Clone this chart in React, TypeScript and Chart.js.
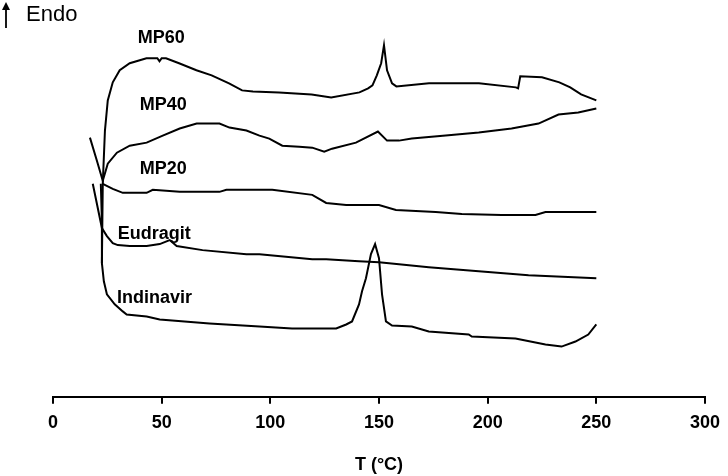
import { useEffect, useRef } from "react";
import { Chart, registerables } from "chart.js";

Chart.register(...registerables);

// Temperature (°C) and heat flow (arbitrary units, endo up) for each thermogram
const mp60T = [22.5, 22.9, 23.9, 25.2, 27.5, 30.7, 35.3, 43, 48, 49, 50, 52, 58, 66, 73, 81, 87, 92, 104, 119, 128, 141, 145, 147, 149, 151, 152.3, 153.7, 156, 158, 173, 196, 213, 214, 215, 225, 233, 238, 243, 250];
const mp60H = [13.3, 21.2, 26.5, 29.5, 31.3, 32.5, 33.2, 33.7, 33.7, 33.4, 33.7, 33.7, 33.2, 32.5, 32.0, 31.2, 30.5, 30.4, 30.3, 30.1, 29.8, 30.3, 30.7, 31.0, 32.0, 33.2, 35.0, 32.5, 31.2, 30.9, 31.2, 31.2, 30.8, 30.7, 31.9, 31.8, 31.3, 30.8, 30.1, 29.5];

const mp40T = [17.0, 20.2, 22.9, 25.2, 29.4, 35.3, 43.1, 50.5, 58.3, 66.1, 76.6, 81.2, 89.0, 95.0, 99.5, 105.5, 113.3, 119.3, 124.8, 128.4, 139.4, 149.5, 153.7, 159.2, 165.1, 180.7, 195.9, 211, 223.4, 232.6, 241.7, 250];
const mp40H = [25.8, 23.5, 21.5, 23.2, 24.3, 25.0, 25.3, 26.0, 26.7, 27.2, 27.2, 26.8, 26.5, 26.0, 25.7, 25.0, 24.9, 24.8, 24.4, 24.7, 25.3, 26.4, 25.5, 25.5, 25.7, 26.0, 26.3, 26.7, 27.2, 28.1, 28.3, 28.7];

const mp20T = [22.9, 27.5, 32.1, 43.1, 45.9, 58.3, 76.6, 79.8, 100.9, 119.3, 125.7, 134.9, 150, 157.8, 176.1, 188.1, 206.4, 222, 226.6, 250];
const mp20H = [21.2, 20.7, 20.3, 20.3, 20.6, 20.4, 20.4, 20.6, 20.6, 20.1, 19.3, 19.1, 19.1, 18.6, 18.4, 18.2, 18.1, 18.1, 18.4, 18.4];

const eudT = [18.3, 22.5, 24.8, 27.5, 29.8, 35.3, 43.1, 49.1, 53.7, 56.9, 68.8, 89, 95, 119.3, 125.7, 140.8, 150, 159.2, 172.9, 195.9, 218.8, 250];
const eudH = [21.2, 16.8, 16.0, 15.3, 15.1, 15.0, 15.0, 15.2, 15.6, 15.0, 14.6, 14.2, 14.2, 13.7, 13.7, 13.5, 13.4, 13.2, 12.9, 12.5, 12.1, 11.8];

const indT = [22.0, 22.5, 22.5, 23.4, 24.8, 28.4, 32.1, 33.9, 43.1, 49.1, 72, 95, 110, 130.3, 134.9, 137.6, 140.8, 142.2, 144, 146.3, 148.2, 150, 151.4, 153.2, 156, 165.1, 172.9, 191.3, 192.7, 212.8, 226.6, 234, 240.4, 246.3, 250];
const indH = [21.2, 17.5, 13.3, 11.5, 10.2, 9.2, 8.5, 8.2, 8.0, 7.7, 7.3, 7.0, 6.8, 6.8, 7.2, 7.5, 9.2, 10.5, 11.8, 14.2, 15.2, 13.8, 10.2, 7.5, 7.1, 7.0, 6.5, 6.2, 6.0, 5.8, 5.2, 5.0, 5.5, 6.2, 7.2];

const seriesNames = ["MP60", "MP40", "MP20", "Eudragit", "Indinavir"];
const xTicks = [0, 50, 100, 150, 200, 250, 300];
const xTitle = "T (°C)";
const yNote = "Endo";

const zip = (t: number[], h: number[]) => t.map((x, i) => ({ x, y: h[i] }));

const FONT = "'Liberation Sans', Arial, Helvetica, sans-serif";

export default function App() {
  const ref = useRef<HTMLCanvasElement | null>(null);

  useEffect(() => {
    if (!ref.current) return;
    const data = [zip(mp60T, mp60H), zip(mp40T, mp40H), zip(mp20T, mp20H), zip(eudT, eudH), zip(indT, indH)];
    // label anchor (left edge, vertical middle) in data units
    const labelAnchors = [
      [39.0, 35.7],
      [39.9, 29.0],
      [39.9, 22.7],
      [29.8, 16.2],
      [29.4, 9.8],
    ];
    const labelsPlugin = {
      id: "curveLabels",
      afterDraw(chart: any) {
        const ctx = chart.ctx;
        const xs = chart.scales.x;
        const ys = chart.scales.y;
        ctx.save();
        ctx.fillStyle = "#000";
        ctx.textBaseline = "middle";
        ctx.textAlign = "left";
        ctx.font = `bold 18px ${FONT}`;
        seriesNames.forEach((n, i) => {
          ctx.fillText(n, xs.getPixelForValue(labelAnchors[i][0]), ys.getPixelForValue(labelAnchors[i][1]));
        });
        // Endo arrow
        ctx.strokeStyle = "#000";
        ctx.lineWidth = 1.8;
        ctx.beginPath();
        ctx.moveTo(6, 28);
        ctx.lineTo(6, 6);
        ctx.stroke();
        ctx.beginPath();
        ctx.moveTo(6, 2);
        ctx.lineTo(2, 10);
        ctx.lineTo(10, 10);
        ctx.closePath();
        ctx.fill();
        ctx.font = `22px ${FONT}`;
        ctx.fillText(yNote, 26, 15);
        ctx.restore();
      },
    };

    const chart = new Chart(ref.current, {
      type: "line",
      data: {
        datasets: data.map((d, i) => ({
          label: seriesNames[i],
          data: d,
          borderColor: "#000",
          borderWidth: 2,
          pointRadius: 0,
          tension: 0,
          fill: false,
        })),
      },
      options: {
        animation: false,
        responsive: false,
        layout: { padding: { left: 53, right: 19, top: 5, bottom: 0 } },
        plugins: { legend: { display: false }, tooltip: { enabled: false } },
        scales: {
          x: {
            type: "linear",
            min: 0,
            max: 300,
            afterBuildTicks: (s: any) => {
              s.ticks = xTicks.map((v) => ({ value: v }));
            },
            grid: { drawOnChartArea: false, drawTicks: true, tickLength: 7, color: "#000", lineWidth: 2 },
            border: { display: true, color: "#000", width: 2 },
            ticks: {
              color: "#000",
              padding: 8,
              maxRotation: 0,
              font: { family: FONT, size: 18, weight: "bold" },
            },
            title: {
              display: true,
              text: xTitle,
              color: "#000",
              font: { family: FONT, size: 18, weight: "bold" },
              padding: { top: 13, bottom: 0 },
            },
          },
          y: {
            type: "linear",
            display: false,
            min: 0,
            max: 39,
          },
        },
      },
      plugins: [labelsPlugin],
    } as any);
    return () => chart.destroy();
  }, []);

  return (
    <div style={{ position: "fixed", left: 0, top: 0, width: 728, height: 476, background: "#fff" }}>
      <canvas ref={ref} width={728} height={476} style={{ display: "block" }} />
    </div>
  );
}
